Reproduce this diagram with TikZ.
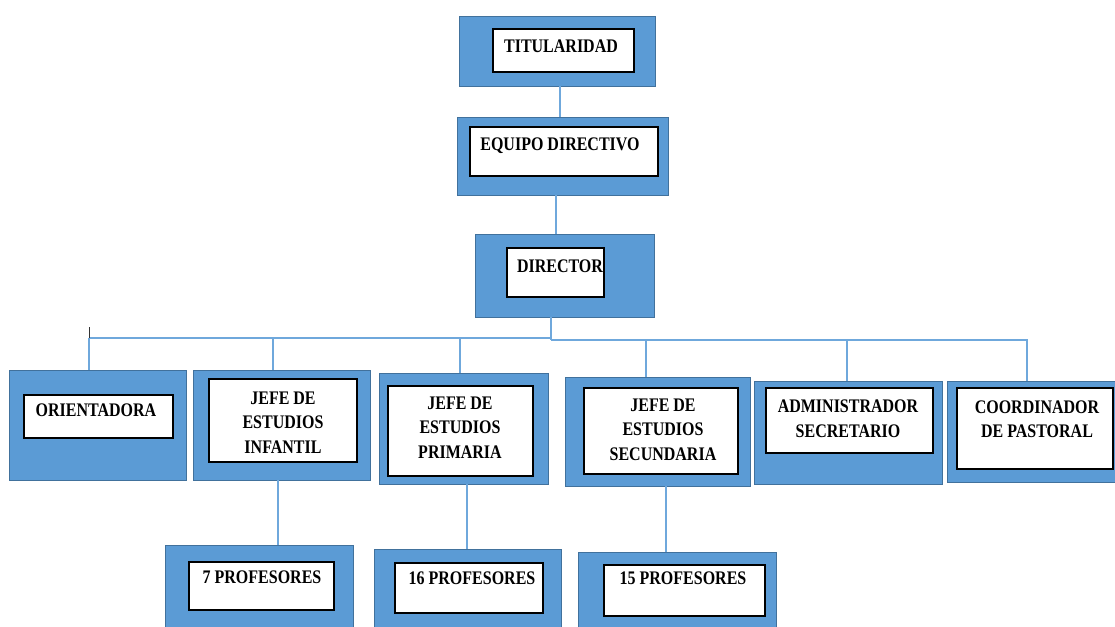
\documentclass[tikz,border=0pt]{standalone}
\usepackage{fontspec}
\usepackage{graphicx}
\setmainfont{Liberation Serif}
\definecolor{boxblue}{HTML}{5B9BD5}
\definecolor{boxedge}{HTML}{41719C}
\definecolor{linkblue}{HTML}{6FA8DC}
\newcommand{\tx}[1]{\scalebox{1}[1.2]{\fontsize{16}{20.4}\selectfont\bfseries\renewcommand{\arraystretch}{1}\begin{tabular}{@{}c@{}}#1\end{tabular}}}
\tikzset{
  outerbox/.style={draw=boxedge, fill=boxblue, line width=0.8pt, inner sep=0pt, rectangle},
  innerbox/.style={draw=black, fill=white, line width=1.3pt, inner sep=0pt, rectangle},
  label/.style={inner sep=0pt, align=center},
  link/.style={draw=linkblue, line width=1.1pt},
}
\begin{document}
\begin{tikzpicture}[x=1pt,y=-1pt]
\useasboundingbox (0,0) rectangle (1115,626);
% top chain
\node[outerbox, minimum width=196pt, minimum height=70pt] (titO) at (557,51) {};
\node[innerbox, minimum width=141pt, minimum height=43pt] (titI) at (563.5,50.5) {};
\node[label] (titT) at (561,48) {\tx{TITULARIDAD}};
\node[outerbox, minimum width=211pt, minimum height=78pt] (eqO) at (562.5,156) {};
\node[innerbox, minimum width=188pt, minimum height=49pt] (eqI) at (564,151.5) {};
\node[label] (eqT) at (560,146) {\tx{EQUIPO DIRECTIVO}};
\node[outerbox, minimum width=179pt, minimum height=83pt] (dirO) at (564.5,275.5) {};
\node[innerbox, minimum width=97pt, minimum height=49pt] (dirI) at (555.5,272.5) {};
\node[label] (dirT) at (560,268) {\tx{DIRECTOR}};
% second row
\node[outerbox, minimum width=177pt, minimum height=110pt] (oriO) at (97.5,425) {};
\node[innerbox, minimum width=149pt, minimum height=43pt] (oriI) at (98.5,416.5) {};
\node[label] (oriT) at (96,412) {\tx{ORIENTADORA}};
\node[outerbox, minimum width=177pt, minimum height=110pt] (infO) at (281.5,425) {};
\node[innerbox, minimum width=148pt, minimum height=83pt] (infI) at (283,420.5) {};
\node[label] (infT) at (283,424) {\tx{JEFE DE\\ESTUDIOS\\INFANTIL}};
\node[outerbox, minimum width=169pt, minimum height=111pt] (priO) at (463.5,428.5) {};
\node[innerbox, minimum width=145pt, minimum height=90pt] (priI) at (460.5,431) {};
\node[label] (priT) at (460,429) {\tx{JEFE DE\\ESTUDIOS\\PRIMARIA}};
\node[outerbox, minimum width=185pt, minimum height=109pt] (secO) at (657.5,431.5) {};
\node[innerbox, minimum width=154pt, minimum height=86pt] (secI) at (661,431) {};
\node[label] (secT) at (663,431) {\tx{JEFE DE\\ESTUDIOS\\SECUNDARIA}};
\node[outerbox, minimum width=188pt, minimum height=103pt] (admO) at (848,432.5) {};
\node[innerbox, minimum width=167pt, minimum height=65pt] (admI) at (849.5,420.5) {};
\node[label] (admT) at (848,420) {\tx{ADMINISTRADOR\\SECRETARIO}};
\node[outerbox, minimum width=173pt, minimum height=101pt] (cooO) at (1033.5,431.5) {};
\node[innerbox, minimum width=156pt, minimum height=81pt] (cooI) at (1035,428.5) {};
\node[label] (cooT) at (1037,420.5) {\tx{COORDINADOR\\DE PASTORAL}};
% third row
\node[outerbox, minimum width=188pt, minimum height=95pt] (p7O) at (259,592.5) {};
\node[innerbox, minimum width=145pt, minimum height=48pt] (p7I) at (261.5,586) {};
\node[label] (p7T) at (262,579) {\tx{7 PROFESORES}};
\node[outerbox, minimum width=187pt, minimum height=91pt] (p16O) at (467.5,594.5) {};
\node[innerbox, minimum width=148pt, minimum height=50pt] (p16I) at (469,588) {};
\node[label] (p16T) at (472,580) {\tx{16 PROFESORES}};
\node[outerbox, minimum width=198pt, minimum height=88pt] (p15O) at (677,596) {};
\node[innerbox, minimum width=161pt, minimum height=51pt] (p15I) at (684.5,590.5) {};
\node[label] (p15T) at (683,580) {\tx{15 PROFESORES}};
% connector columns
\coordinate (c1) at (560,0);
\coordinate (c2) at (556,0);
\coordinate (c3) at (551,0);
\coordinate (hl) at (89,338);
\coordinate (hm) at (551,338);
\coordinate (hn) at (551,340);
\coordinate (hr) at (1028,340);
\coordinate (tick) at (89,327);
\coordinate (xo) at (89,0);
\coordinate (xi) at (273,0);
\coordinate (xp) at (460,0);
\coordinate (xs) at (646,0);
\coordinate (xa) at (847,0);
\coordinate (xc) at (1027,0);
\coordinate (x7) at (278,0);
\coordinate (x16) at (467,0);
\coordinate (x15) at (666,0);
\path[link] (c1 |- titO.south) -- (c1 |- eqO.north);
\path[link] (c2 |- eqO.south) -- (c2 |- dirO.north);
\path[link] (c3 |- dirO.south) -- (hn);
\path[link] (hl) -- (hm);
\path[link] (hn) -- (hr);
\draw[black!80, line width=1pt] (tick) -- (hl);
\path[link] (hl) -- (xo |- oriO.north);
\path[link] (xi |- hl) -- (xi |- infO.north);
\path[link] (xp |- hl) -- (xp |- priO.north);
\path[link] (xs |- hn) -- (xs |- secO.north);
\path[link] (xa |- hn) -- (xa |- admO.north);
\path[link] (xc |- hn) -- (xc |- cooO.north);
\path[link] (x7 |- infO.south) -- (x7 |- p7O.north);
\path[link] (x16 |- priO.south) -- (x16 |- p16O.north);
\path[link] (x15 |- secO.south) -- (x15 |- p15O.north);
\end{tikzpicture}
\end{document}
